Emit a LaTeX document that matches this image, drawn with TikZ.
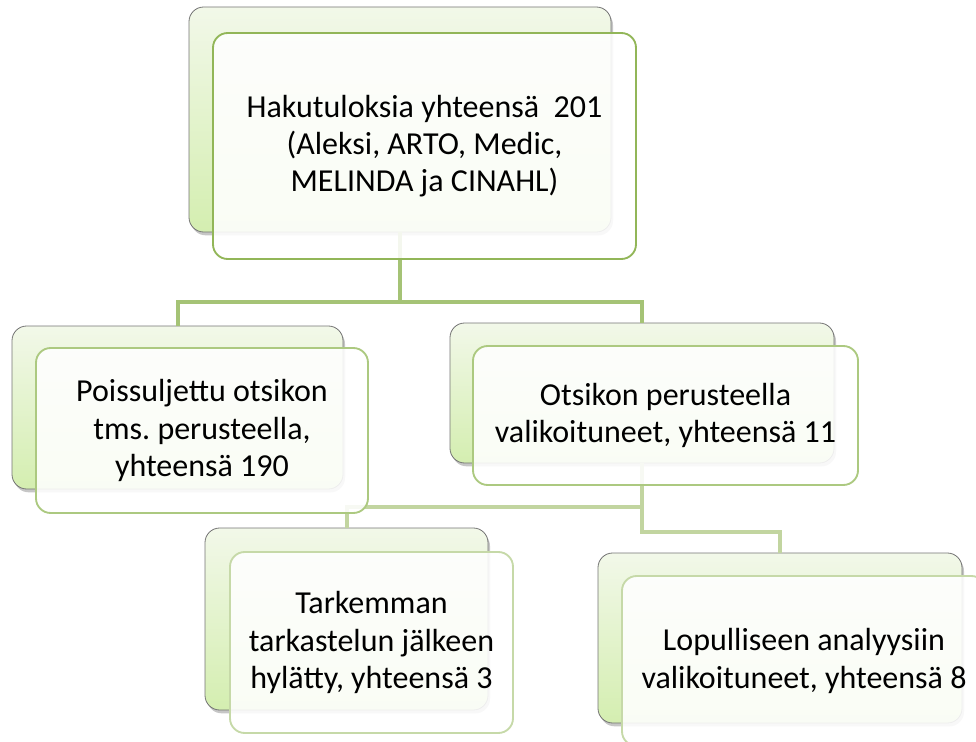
\documentclass[tikz,border=0pt]{standalone}
\usepackage{fontspec}
\setmainfont{Carlito}
\usetikzlibrary{shadows}
\frenchspacing
\definecolor{backtop}{RGB}{242,248,233}
\definecolor{backbot}{RGB}{212,238,176}
\definecolor{rimA}{RGB}{146,182,88}
\definecolor{rimB}{RGB}{172,201,128}
\definecolor{rimC}{RGB}{198,217,168}
\definecolor{linkA}{RGB}{165,195,118}
\definecolor{linkB}{RGB}{194,213,160}
\begin{document}
\begin{tikzpicture}[x=0.75pt,y=-0.75pt,
    size/.style 2 args={minimum width=#1*0.75pt, minimum height=#2*0.75pt}]
    \tikzstyle{backbox}=[draw=black!55, line width=0.6pt, rounded corners=11pt,
      top color=backtop, bottom color=backbot,
      drop shadow={shadow xshift=1.5pt, shadow yshift=-2.5pt, opacity=0.45}]
    \tikzstyle{frontbox}=[rounded corners=11pt, fill=white, fill opacity=0.88,
      text opacity=1, line width=1.4pt, align=center,
      font=\fontsize{24}{28}\selectfont]
    \tikzstyle{link}=[line width=3pt]
    \useasboundingbox (0,0) rectangle (976,742);
    % back boxes
    \node[backbox, size={422}{225}] (b1) at (400,119.5) {};
    \node[backbox, size={331}{163}] (b2) at (177.5,407.5) {};
    \node[backbox, size={384}{140}] (b3) at (642,393) {};
    \node[backbox, size={283}{182}] (b4) at (346.5,619) {};
    \node[backbox, size={364}{170}] (b5) at (780,638) {};
    % connectors
    \coordinate (j1) at (400,302);
    \coordinate (j2) at (642,507);
    \coordinate (j3) at (642,532);
    \draw[link, linkA] (b1.south) -- (j1) -| (b2.north);
    \draw[link, linkA] (j1) -| (b3.north);
    \draw[link, linkB] (b3.south) -- (j3) -| (b5.north);
    \draw[link, linkB] (j2) -| (b4.north);
    % front boxes
    \node[frontbox, draw=rimA, size={423}{226}] (f1) at (424.5,146)
      {Hakutuloksia yhteensä~~201\\(Aleksi, ARTO, Medic,\\MELINDA ja CINAHL)};
    \node[frontbox, draw=rimB, size={332}{165}] (f2) at (202,430.5)
      {Poissuljettu otsikon\\tms. perusteella,\\yhteensä 190};
    \node[frontbox, draw=rimB, size={385}{139}] (f3) at (665.5,415.5)
      {Otsikon perusteella\\valikoituneet, yhteensä 11};
    \node[frontbox, draw=rimC, size={283}{181}] (f4) at (371.5,642.5)
      {Tarkemman\\tarkastelun jälkeen\\hylätty, yhteensä 3};
    \node[frontbox, draw=rimC, size={364}{170}] (f5) at (804,661)
      {Lopulliseen analyysiin\\valikoituneet, yhteensä 8};
\end{tikzpicture}
\end{document}
